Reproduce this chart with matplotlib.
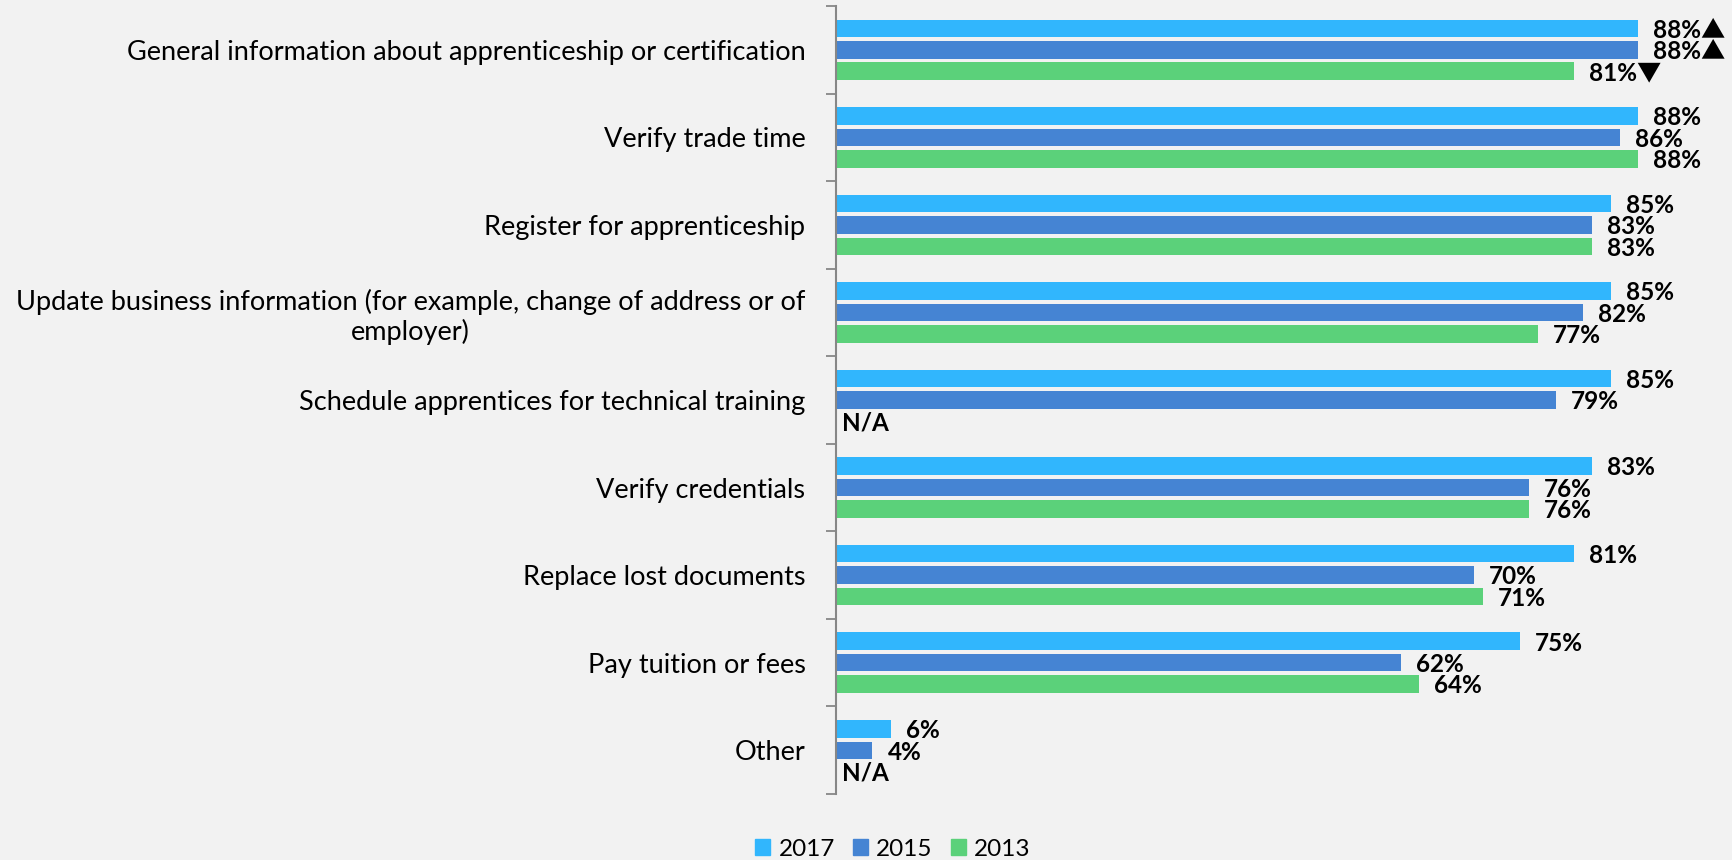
import matplotlib
matplotlib.use('Agg')
import matplotlib.pyplot as plt
import matplotlib.patches as mpatches
import numpy as np

plt.rcParams['font.family'] = ['Lato', 'DejaVu Sans']

categories = ['General information about apprenticeship or certification',
              'Verify trade time',
              'Register for apprenticeship',
              'Update business information (for example, change of address or of\nemployer)',
              'Schedule apprentices for technical training',
              'Verify credentials',
              'Replace lost documents',
              'Pay tuition or fees',
              'Other']
years = ['2017', '2015', '2013']
v2017 = [88, 88, 85, 85, 85, 83, 81, 75, 6]
v2015 = [88, 86, 83, 82, 79, 76, 70, 62, 4]
v2013 = [81, 88, 83, 77, None, 76, 71, 64, None]
marks2017 = ['▲', '', '', '', '', '', '', '', '']
marks2015 = ['▲', '', '', '', '', '', '', '', '']
marks2013 = ['▼', '', '', '', '', '', '', '', '']

colors = ['#31B6FD', '#4584D3', '#5BD17A']
bg = '#F2F2F2'

fig = plt.figure(figsize=(17.33, 8.6), dpi=100, facecolor=bg)
ax = fig.add_axes([0.4824, 0.0767, 0.4996, 0.9163])
ax.set_facecolor(bg)

y = np.arange(len(categories))
off = 0.245
h = 0.2
px = 95 / (0.4996 * 1733)   # data units per pixel

series = [(v2017, marks2017), (v2015, marks2015), (v2013, marks2013)]
for k, (vals, marks) in enumerate(series):
    yy = y + (k - 1) * off
    for i, v in enumerate(vals):
        if v is None:
            ax.text(6 * px, yy[i] + 0.02, 'N/A', ha='left', va='center',
                    fontsize=17.5, fontweight='bold', color='black')
            continue
        ax.barh(yy[i], v, height=h, color=colors[k], edgecolor='none')
        ax.text(v + 15 * px, yy[i] + 0.02, f'{v}%' + marks[i], ha='left', va='center',
                fontsize=17.5, fontweight='bold', color='black',
                family=['Lato', 'Noto Sans CJK SC', 'DejaVu Sans'])

ax.set_xlim(0, 95)
ax.set_ylim(len(categories) - 0.5, -0.5)
ax.set_yticks(y)
ax.set_yticklabels(categories, fontsize=19.5, multialignment='center')
ax.set_yticks(np.arange(-0.5, len(categories) + 0.5, 1), minor=True)
ax.tick_params(axis='y', which='major', length=0, pad=22)
ax.tick_params(axis='y', which='minor', length=7, width=1.3, color='#878787')
ax.set_xticks([])
for s in ['top', 'right', 'bottom']:
    ax.spines[s].set_visible(False)
ax.spines['left'].set_color('#878787')
ax.spines['left'].set_linewidth(1.5)

handles = [mpatches.Patch(color=c, label=l) for c, l in zip(colors, years)]
fig.legend(handles=handles, loc='center', bbox_to_anchor=(893 / 1733, 1 - 849 / 860),
           ncol=3, frameon=False, fontsize=17.5, handlelength=0.6, handleheight=0.6,
           handletextpad=0.35, columnspacing=0.75)

fig.savefig('out.png', dpi=100, facecolor=bg)
